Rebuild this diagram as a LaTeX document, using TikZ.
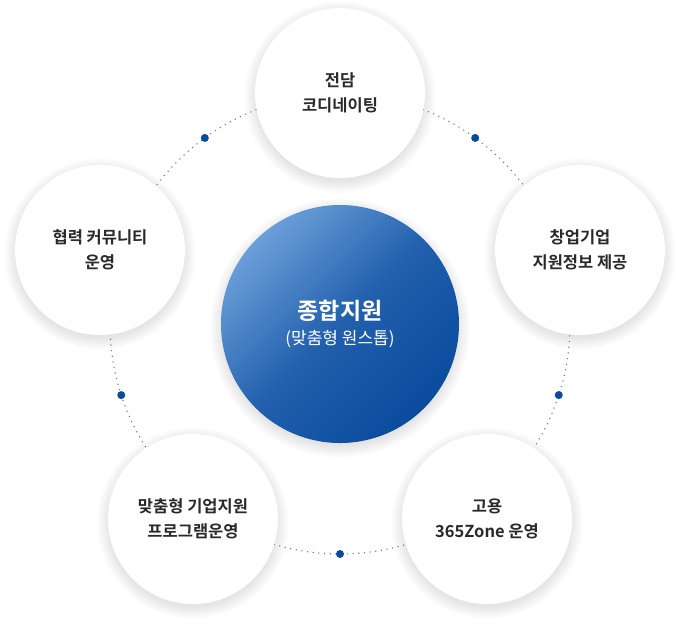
\documentclass[tikz,border=0pt]{standalone}
\usepackage{fontspec}
\newfontfamily\kr{Noto Sans CJK KR Bold}
\newfontfamily\krr{Noto Sans CJK KR}
\usetikzlibrary{backgrounds}
\definecolor{dotblue}{HTML}{0B4A97}
\definecolor{ringblue}{HTML}{4A7CC0}
\definecolor{hubtop}{HTML}{6A9FD9}
\definecolor{hubbot}{HTML}{0A4B9E}
\definecolor{txt}{HTML}{2A2A2A}

\begin{document}
\begin{tikzpicture}[x=1pt,y=-1pt,
    item/.style={circle,fill=white,minimum size=170pt,inner sep=0pt,align=center,text=txt,
      font=\kr\fontsize{16.5}{25}\selectfont},
    hub/.style={circle,minimum size=238pt,inner sep=0pt,align=center,text=white,
      top color=hubtop,bottom color=hubbot,middle color=hubbot!75!hubtop,shading angle=45},
    ring/.style={ringblue,line width=1.1pt,dash pattern=on 1.1pt off 4.6pt},
    dot/.style={circle,fill=dotblue,minimum size=8pt,inner sep=0pt},
    soft/.style={black,opacity=0.006}]
  \useasboundingbox (0,0) rectangle (680,625);

  \coordinate (c) at (340,324);
  \draw[ring] (c) circle[radius=230];
  \foreach \a/\n in {-126/d1,-54/d2,18/d3,90/d4,162/d5}
    \node[dot] (\n) at ([shift={(\a:230)}]c) {};

  \node[hub] (hub) at (c) {{\kr\fontsize{23}{26}\selectfont 종합지원}\\[8pt]
    {\krr\fontsize{17}{18}\selectfont (맞춤형 원스톱)}};

  \node[item] (coord) at (340,93) {전담\\코디네이팅};
  \node[item] (startup) at (580,250) {창업기업\\지원정보 제공};
  \node[item] (job) at (487,519) {고용\\365Zone 운영};
  \node[item] (program) at (193,519) {맞춤형 기업지원\\프로그램운영};
  \node[item] (community) at (100,250) {협력 커뮤니티\\운영};

  \begin{scope}[on background layer]
    \fill[white] (0,0) rectangle (680,625);
    \foreach \n in {coord,startup,job,program,community}
      \foreach \r in {84,85,...,96}
        \fill[soft] ([yshift=-4pt]\n.center) circle[radius=\r];
    \foreach \r in {117,118,...,130}
      \fill[soft] ([yshift=-4pt]hub.center) circle[radius=\r];
  \end{scope}
\end{tikzpicture}
\end{document}
